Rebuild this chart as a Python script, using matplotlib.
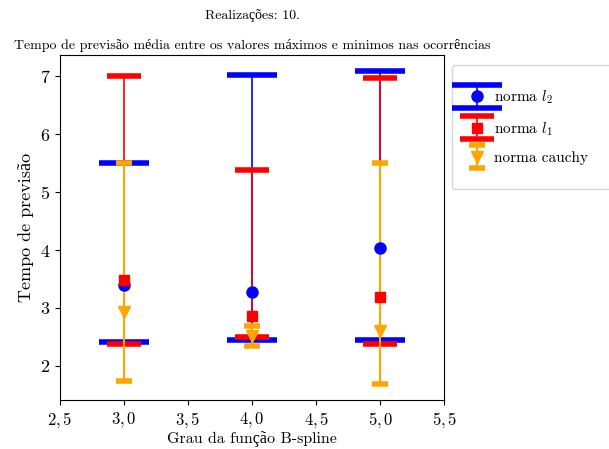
import numpy as np
import matplotlib
matplotlib.use('agg')
import matplotlib.pyplot as plt
from matplotlib.legend_handler import HandlerErrorbar

plt.rcParams['font.family'] = ['cmr10', 'Liberation Serif']
plt.rcParams['mathtext.fontset'] = 'cm'
plt.rcParams['axes.formatter.use_mathtext'] = True
plt.rcParams['axes.unicode_minus'] = False

# Grau da B-spline
graus = [3, 4, 5]

# norma l2: media, minimo, maximo
l2_media = [3.39, 3.27, 4.03]
l2_min = [2.42, 2.45, 2.44]
l2_max = [5.50, 7.02, 7.10]

# norma l1
l1_media = [3.48, 2.86, 3.19]
l1_min = [2.38, 2.49, 2.38]
l1_max = [7.00, 5.38, 6.97]

# norma cauchy
cauchy_media = [2.93, 2.51, 2.60]
cauchy_min = [1.74, 2.34, 1.68]
cauchy_max = [5.50, 2.68, 5.50]

xticks = [2.5, 3.0, 3.5, 4.0, 4.5, 5.0, 5.5]
xtick_labels = ['$2,5$', '$3,0$', '$3,5$', '$4,0$', '$4,5$', '$5,0$', '$5,5$']


def erros(media, mn, mx):
    media = np.array(media)
    return [media - np.array(mn), np.array(mx) - media]


fig = plt.figure(figsize=(6.09, 4.49), dpi=100)
ax = fig.add_subplot(111)
fig.subplots_adjust(left=0.0985, right=0.7296, bottom=0.109, top=0.8775)

ax.errorbar(graus, l2_media, yerr=erros(l2_media, l2_min, l2_max), fmt='o',
            color='blue', ms=8, elinewidth=1.2, capsize=18, capthick=4,
            label='norma $l_2$')
ax.errorbar(graus, l1_media, yerr=erros(l1_media, l1_min, l1_max), fmt='s',
            color='red', ms=7, elinewidth=1.2, capsize=12, capthick=4,
            label='norma $l_1$')
ax.errorbar(graus, cauchy_media, yerr=erros(cauchy_media, cauchy_min, cauchy_max),
            fmt='v', color='orange', ms=9, elinewidth=1.5, capsize=6, capthick=4,
            label='norma cauchy')

ax.set_xlim(2.5, 5.5)
ax.set_xticks(xticks)
ax.set_xticklabels(xtick_labels)
ax.tick_params(axis='x', labelsize=12)
ax.tick_params(axis='y', labelsize=13)
ax.set_xlabel('Grau da função B-spline', fontsize=11.5, labelpad=1)
ax.set_ylabel('Tempo de previsão', fontsize=13)
ax.set_title('Tempo de previsão média entre os valores máximos e minimos nas ocorrências',
             fontsize=10, pad=4)
fig.text(0.414, 0.966, 'Realizações: 10.', fontsize=10, ha='center', va='center')

ax.legend(loc='upper left', bbox_to_anchor=(1.021, 0.971), borderaxespad=0,
          fontsize=11, borderpad=1.55, handlelength=0.1, handletextpad=1.1,
          handleheight=0.7, labelspacing=0.9,
          handler_map={type(ax.containers[0]): HandlerErrorbar(yerr_size=0.75)})

fig.savefig('out.png', dpi=100)
